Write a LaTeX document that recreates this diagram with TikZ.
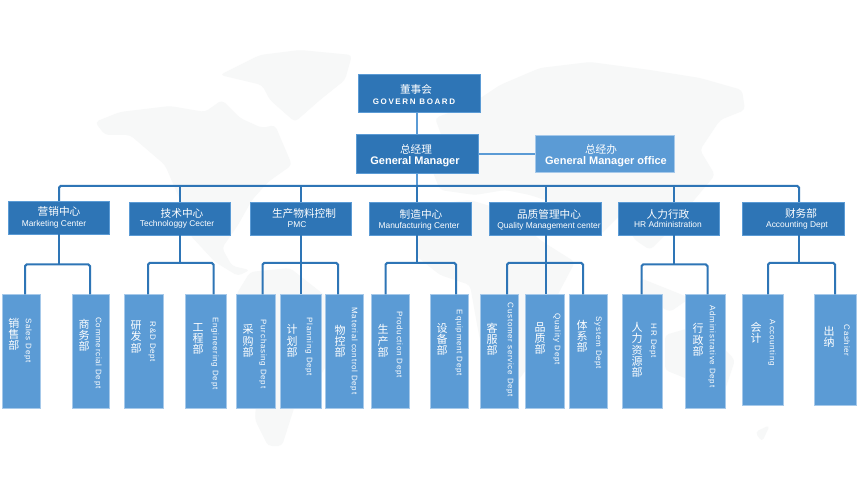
\documentclass[tikz,border=0pt]{standalone}
\usepackage{fontspec}
\setmainfont{Liberation Sans}
\newfontfamily\cjk{Noto Sans CJK SC}
\newfontfamily\lsp[LetterSpace=9]{Liberation Sans}
\newfontfamily\lspb[LetterSpace=20]{Liberation Sans Bold}
\definecolor{darkbox}{HTML}{2E75B6}
\definecolor{lightbox}{HTML}{5B9BD5}
\definecolor{edgepale}{HTML}{A6C9EA}
\definecolor{mapgrey}{HTML}{F7F8F8}
\tikzset{
  x=0.75pt,y=-0.75pt,
  txt/.style={text=white,inner sep=0pt,align=center},
  darkfill/.style={fill=darkbox,draw=lightbox,line width=0.6pt},
  lightfill/.style={fill=lightbox,draw=edgepale,line width=0.6pt},
  linkdark/.style={draw=darkbox,line width=1.5pt,rounded corners=1.2pt},
  linklight/.style={draw=lightbox,line width=1.8pt},
  land/.style={fill=mapgrey,draw=none,rounded corners=3pt},
}
% id, style, x0, y0, x1, y1
\newcommand{\bx}[6]{%
  \pgfmathsetmacro{\bw}{(#5-#3)*0.75}%
  \pgfmathsetmacro{\bh}{(#6-#4)*0.75}%
  \node[#2,minimum width=\bw pt,minimum height=\bh pt,inner sep=0pt,outer sep=0pt] (#1) at ({(#3+#5)/2},{(#4+#6)/2}) {};}
% id, x, y, text
\newcommand{\lbl}[4]{\node[txt] (#1) at (#2,#3) {#4};}
\newcommand{\cnT}[1]{{\cjk\fontsize{8}{9}\selectfont #1}}
\newcommand{\enT}[1]{{\fontsize{6.3}{8}\selectfont #1}}
\newcommand{\enB}[1]{{\fontsize{8.25}{10}\selectfont\bfseries #1}}
% id, x0, x1, y1, cn, (cx,cy), en, (ex,ey), drop x
\newcommand{\leaf}[9]{%
  \bx{#1}{lightfill}{#2}{294.5}{#3}{#4}%
  \node[txt,font=\cjk\fontsize{8.25}{8.4}\selectfont] (#1-cn) at (#6) {#5};%
  \node[txt,rotate=-90,font=\lsp\fontsize{6}{8}\selectfont] (#1-en) at (#8) {#7};%
  \coordinate (#1-drop) at (#9,0);}
\begin{document}
\begin{tikzpicture}
\useasboundingbox (0,0) rectangle (860,484);
\fill[white] (0,0) rectangle (860,484);
% world map
\fill[land] (95,122) -- (120,112) -- (170,106) -- (205,112) -- (222,100) -- (240,118) -- (262,128) -- (275,125) -- (292,165) -- (268,182) -- (252,200) -- (238,225) -- (222,248) -- (232,266) -- (250,270) -- (238,276) -- (215,262) -- (190,235) -- (180,200) -- (165,165) -- (130,135) -- (105,135) -- cycle;
\fill[land] (220,75) -- (260,55) -- (300,50) -- (352,55) -- (345,80) -- (320,100) -- (295,122) -- (270,100) -- (262,85) -- cycle;
\fill[land] (250,272) -- (290,268) -- (318,290) -- (352,318) -- (335,350) -- (318,380) -- (295,405) -- (282,446) -- (268,446) -- (255,420) -- (258,370) -- (240,320) -- (236,295) -- cycle;
\fill[land] (435,118) -- (470,105) -- (500,85) -- (540,68) -- (590,62) -- (650,70) -- (700,78) -- (742,90) -- (745,110) -- (720,120) -- (700,150) -- (715,175) -- (690,205) -- (670,230) -- (650,250) -- (635,240) -- (620,215) -- (600,235) -- (585,215) -- (560,205) -- (530,195) -- (505,190) -- (475,195) -- (440,190) -- (430,165) -- (445,145) -- cycle;
\fill[land] (425,205) -- (470,200) -- (510,212) -- (540,240) -- (575,262) -- (555,300) -- (540,350) -- (515,385) -- (490,385) -- (478,330) -- (470,285) -- (440,275) -- (415,255) -- cycle;
\fill[land] (665,335) -- (700,325) -- (735,360) -- (725,390) -- (690,380) -- (665,370) -- cycle;
\fill[land] (640,278) -- (690,298) -- (670,312) -- (640,295) -- cycle;
\fill[land] (755,432) -- (770,425) -- (762,442) -- cycle;
% top boxes
\bx{board}{darkfill}{358}{74}{480}{112}
\bx{gm}{darkfill}{356}{134.5}{478}{173}
\bx{office}{lightfill}{535}{135}{674}{172}
\lbl{board-cn}{416}{89}{\cnT{董事会}}
\node[txt,font=\lspb\fontsize{6}{8}\selectfont] (board-en) at (414,102) {GOVERN BOARD};
\lbl{gm-cn}{416}{149}{\cnT{总经理}}
\lbl{gm-en}{415}{162}{\enB{General Manager}}
\lbl{office-cn}{601}{149}{\cnT{总经办}}
\lbl{office-en}{606}{162}{\enB{General Manager office}}
% centres
\bx{c1}{darkfill}{8.5}{201}{109}{234}
\bx{c2}{darkfill}{129}{202}{230}{235}
\bx{c3}{darkfill}{250}{202}{351}{235}
\bx{c4}{darkfill}{369}{202}{471}{235}
\bx{c5}{darkfill}{489}{202}{601}{235}
\bx{c6}{darkfill}{618}{202}{719}{235}
\bx{c7}{darkfill}{742}{202}{844}{235}
\lbl{c1-cn}{59}{211}{\cnT{营销中心}}
\lbl{c1-en}{54}{224}{\enT{Marketing Center}}
\lbl{c2-cn}{182}{213}{\cnT{技术中心}}
\lbl{c2-en}{177}{224}{\enT{Technologgy Cecter}}
\lbl{c3-cn}{304}{213}{\cnT{生产物料控制}}
\lbl{c3-en}{297}{225}{\enT{PMC}}
\lbl{c4-cn}{421}{214}{\cnT{制造中心}}
\lbl{c4-en}{419}{226}{\enT{Manufacturing Center}}
\lbl{c5-cn}{549}{214}{\cnT{品质管理中心}}
\lbl{c5-en}{549}{226}{\enT{Quality Management center}}
\lbl{c6-cn}{668}{214}{\cnT{人力行政}}
\lbl{c6-en}{668}{225}{\enT{HR Administration}}
\lbl{c7-cn}{801}{213}{\cnT{财务部}}
\lbl{c7-en}{797}{225}{\enT{Accounting Dept}}
% leaves
\leaf{s1}{2}{40}{408}{销\\售\\部}{14,334.5}{Sales Dept}{28,340.5}{25}
\leaf{s2}{72}{109}{408.5}{商\\务\\部}{84,335}{Commercial Dept}{98,353}{90}
\leaf{t1}{124.5}{163}{408}{研\\发\\部}{136,337}{R\&D Dept}{152,342}{148}
\leaf{t2}{185.5}{226}{408}{工\\程\\部}{198,339}{Engineering Dept}{215,353.5}{213.5}
\leaf{p1}{236}{275}{408}{采\\购\\部}{248,341}{Purchasing Dept}{263,354}{262.5}
\leaf{p2}{280}{321}{408}{计\\划\\部}{292,341}{Planning Dept}{309,347}{301}
\leaf{p3}{325}{363}{408}{物\\控\\部}{340,341.5}{Material control Dept}{354,351}{338}
\leaf{m1}{371}{409.5}{408}{生\\产\\部}{383,341}{Production Dept}{399,344.5}{385.5}
\leaf{m2}{430}{468}{408}{设\\备\\部}{442,339.5}{Equipment Dept}{459,343}{456}
\leaf{q1}{480}{518}{408}{客\\服\\部}{492,339}{Customer service Dept}{510,350}{507}
\leaf{q2}{525}{564}{408}{品\\质\\部}{540,338.5}{Quality Dept}{557,339}{546}
\leaf{q3}{569}{607}{408}{体\\系\\部}{582,336.5}{System Dept}{598,343}{583}
\leaf{h1}{622}{662}{408}{人\\力\\资\\源\\部}{637,350}{HR Dept}{653,341}{641.5}
\leaf{h2}{685}{725}{408}{行\\政\\部}{698,340}{Administrative Dept}{712,346.5}{707.5}
\leaf{a1}{742}{783.5}{405}{会\\计}{756,332.5}{Accounting}{772,343}{768}
\leaf{a2}{814.5}{856}{405}{出\\纳}{829,337}{Cashier}{847,340.5}{835}
% connectors
\coordinate (axis) at (417,186);
\coordinate (busL) at (59,186);
\coordinate (busR) at (799,186);
\draw[linklight] (axis |- board.south) -- (axis |- gm.north);
\draw[linklight] (gm.east) -- (office.west |- gm.east);
\draw[linklight] (axis |- gm.south) -- (axis);
\draw[linkdark] (busL |- c1.north) -- (busL) -- (busR) -- (busR |- c7.north);
\foreach \bi/\bxx in {c2/180,c3/301,c4/417,c5/546,c6/674}{
  \coordinate (tap) at (\bxx,186);
  \draw[linkdark] (tap) -- (tap |- \bi.north);
}
% parent, stem x, bar y, left leaf, right leaf
\newcommand{\branch}[5]{%
  \coordinate (st) at (#2,#3);
  \coordinate (lf) at (#4-drop |- st);
  \coordinate (rt) at (#5-drop |- st);
  \draw[linkdark] (st |- #1.south) -- (st);
  \draw[linkdark] (lf |- #4.north) -- (lf) -- (rt) -- (rt |- #5.north);}
\branch{c1}{59}{264.5}{s1}{s2}
\branch{c2}{180}{263}{t1}{t2}
\branch{c3}{301}{263}{p1}{p3}
\branch{c4}{417}{263}{m1}{m2}
\branch{c5}{546}{263}{q1}{q3}
\branch{c6}{674}{264.5}{h1}{h2}
\branch{c7}{799}{263}{a1}{a2}
\coordinate (pm) at (301,263);
\coordinate (qm) at (546,263);
\draw[linkdark] (pm) -- (pm |- p2.north);
\draw[linkdark] (qm) -- (qm |- q2.north);
\end{tikzpicture}
\end{document}
